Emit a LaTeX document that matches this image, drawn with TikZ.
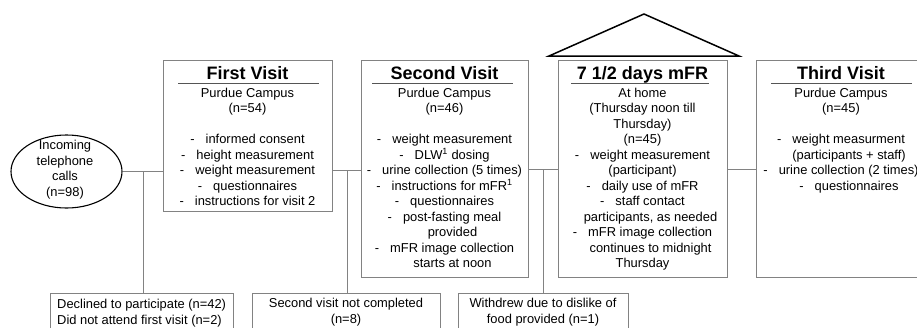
\documentclass[tikz,border=0pt]{standalone}
\usepackage{fontspec}
\setmainfont{Liberation Sans}
\usetikzlibrary{shapes.geometric}
\definecolor{boxgray}{RGB}{130,130,130}
\definecolor{ulgray}{RGB}{85,85,85}
\newcommand\itm{-\hspace{11pt}}
\begin{document}
\begin{tikzpicture}[x=1pt,y=-1pt,
  box/.style={draw=boxgray, line width=0.9pt, rectangle, inner sep=0pt, anchor=north west},
  txt/.style={font=\fontsize{12.9}{15.5}\selectfont, align=center, inner sep=0pt, anchor=base},
  ttl/.style={font=\fontsize{18}{21}\selectfont\bfseries, inner sep=0pt, anchor=base},
  uline/.style={draw=ulgray, line width=0.9pt},
  conn/.style={draw=boxgray, line width=0.9pt}]
\useasboundingbox (0,0) rectangle (917,327);
\clip (0,0) rectangle (917,327);

% boxes
\node[box, minimum width=169pt, minimum height=151pt] (fv) at (163,60) {};
\node[box, minimum width=167pt, minimum height=217pt] (sv) at (361,60) {};
\node[box, minimum width=169pt, minimum height=217pt] (mfr) at (558,60) {};
\node[box, minimum width=170pt, minimum height=217pt] (tv) at (756,60) {};
\node[box, minimum width=183pt, minimum height=60pt] (b1) at (50,293) {};
\node[box, minimum width=188pt, minimum height=60pt] (b2) at (252,293) {};
\node[box, minimum width=170pt, minimum height=60pt] (b3) at (458,293) {};

% ellipse
\node[draw=black, line width=1.1pt, ellipse, minimum width=111pt, minimum height=73pt, inner sep=0pt] (calls) at (66.5,171.5) {};
% (multi-line nodes: base anchor = baseline of last line)
\node[txt] (callst) at (65,196) {Incoming\\telephone\\calls\\(n=98)};

% roof
\draw[black, line width=1.5pt] (549,56) -- (644,14) -- (739,56) -- cycle;

% titles
\node[ttl] (fvt) at (247.5,79.5) {First Visit};
\node[ttl] (svt) at (444.5,79.5) {Second Visit};
\node[ttl] (mfrt) at (642.5,79.5) {7 1/2 days mFR};
\node[ttl] (tvt) at (841,79.5) {Third Visit};
\draw[uline] (178,83) -- (319,83);
\draw[uline] (372,83) -- (513,83);
\draw[uline] (571,83) -- (709,83);
\draw[uline] (771,83) -- (912,83);

% body texts
\node[txt] (fvb) at (247.5,205.5) {Purdue Campus\\(n=54)\\[15.5pt]
  \itm informed consent\\
  \itm height measurement\\
  \itm weight measurement\\
  \itm questionnaires\\
  \itm instructions for visit 2};
\node[txt] (svb) at (444.5,267.5) {Purdue Campus\\(n=46)\\[15.5pt]
  \itm weight measurement\\
  \itm DLW\textsuperscript{1} dosing\\
  \itm urine collection (5 times)\\
  \itm instructions for mFR\textsuperscript{1}\\
  \itm questionnaires\\
  \itm post-fasting meal\\
  \hspace*{16pt}provided\\
  \itm mFR image collection\\
  \hspace*{16pt}starts at noon};
\node[txt] (mfrb) at (642.5,267.5) {At home\\(Thursday noon till\\Thursday)\\(n=45)\\
  \itm weight measurement\\
  (participant)\hspace*{16pt}\\
  \itm daily use of mFR\\
  \itm staff contact\\
  \hspace*{16pt}participants, as needed\\
  \itm mFR image collection\\
  \hspace*{16pt}continues to midnight\\
  Thursday};
\node[txt] (tvb) at (841,190) {Purdue Campus\\(n=45)\\[15.5pt]
  \itm weight measurment\\
  \hspace*{16pt}(participants + staff)\\
  \itm urine collection (2 times)\\
  \hspace*{16pt}\itm questionnaires};

\node[txt, align=left, anchor=base west] (b1t) at (57,324) {Declined to participate (n=42)\\Did not attend first visit (n=2)};
\node[txt] (b2t) at (346,323) {Second visit not completed\\(n=8)};
\node[txt] (b3t) at (543,323) {Withdrew due to dislike of\\food provided (n=1)};

% connectors
\coordinate (j1) at (143,171);
\coordinate (j2) at (347,170);
\coordinate (j3) at (543,169);
\coordinate (j4) at (741,169);
\draw[conn] (calls.east |- j1) -- (fv.west |- j1);
\draw[conn] (j1) -- (j1 |- b1.north);
\draw[conn] (fv.east |- j2) -- (sv.west |- j2);
\draw[conn] (j2) -- (j2 |- b2.north);
\draw[conn] (sv.east |- j3) -- (mfr.west |- j3);
\draw[conn] (j3) -- (j3 |- b3.north);
\draw[conn] (mfr.east |- j4) -- (tv.west |- j4);
\end{tikzpicture}
\end{document}
